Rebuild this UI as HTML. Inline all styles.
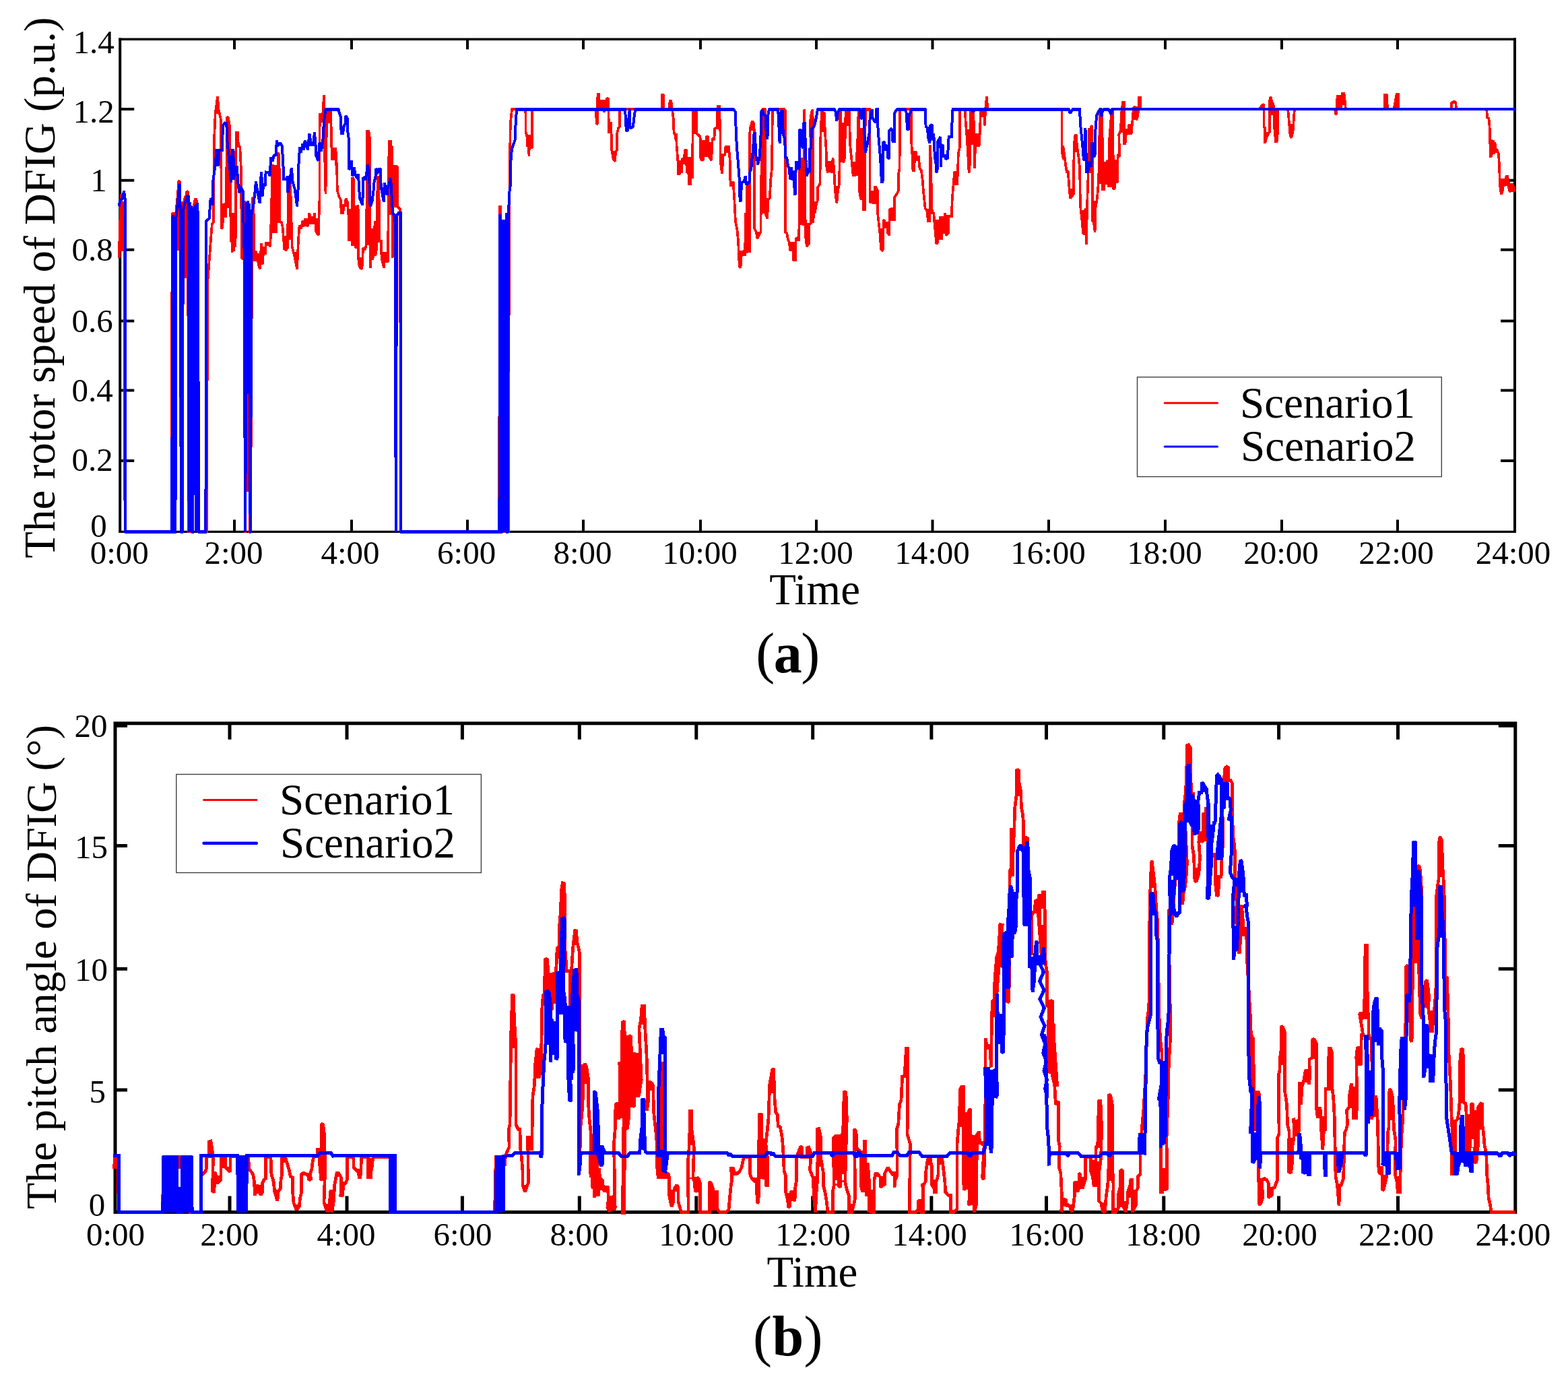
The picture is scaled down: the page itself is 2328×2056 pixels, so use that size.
<!DOCTYPE html>
<html lang="en">
<head>
<meta charset="utf-8">
<title>Rotor speed and pitch angle of DFIG</title>
<style>
html,body{margin:0;padding:0;background:#fff;}
body{width:2328px;height:2056px;overflow:hidden;}
svg{display:block;}
text{font-family:"Liberation Serif", "DejaVu Serif", serif;fill:#000;}
.tk{font-size:49px;}
.ax{font-size:65px;}
.lg{font-size:65px;}
.cap{font-size:84px;letter-spacing:-1.5px;}
</style>
</head>
<body>
<svg width="2328" height="2056" viewBox="0 0 2328 2056" role="img" aria-label="Rotor speed and pitch angle of DFIG, Scenario1 versus Scenario2">
<rect width="2328" height="2056" fill="#fff"/>
<defs><filter id="close" filterUnits="userSpaceOnUse" x="0" y="0" width="2328" height="2056" color-interpolation-filters="sRGB"><feMorphology operator="dilate" radius="1.0" result="d"/><feMorphology in="d" operator="erode" radius="1.0" result="e"/><feComponentTransfer in="e"><feFuncA type="discrete" tableValues="0 1"/></feComponentTransfer></filter><filter id="crisp" filterUnits="userSpaceOnUse" x="0" y="0" width="2328" height="2056" color-interpolation-filters="sRGB"><feComponentTransfer><feFuncA type="discrete" tableValues="0 1"/></feComponentTransfer></filter></defs>
<g id="plot-a">
<g stroke="#000" stroke-width="4" fill="none" stroke-linecap="butt">
<path d="M178.2 56.5V791.1 M2249.0 56.5V791.1"/>
<path d="M176.2 58.2H2251.0 M176.2 789.4H2251.0" stroke-width="3.4"/>
<path d="M348 789.4V771.4 M348 58.2V73.2"/>
<path d="M522 789.4V771.4 M522 58.2V73.2"/>
<path d="M694 789.4V771.4 M694 58.2V73.2"/>
<path d="M866 789.4V771.4 M866 58.2V73.2"/>
<path d="M1040 789.4V771.4 M1040 58.2V73.2"/>
<path d="M1212 789.4V771.4 M1212 58.2V73.2"/>
<path d="M1384.5 789.4V771.4 M1384.5 58.2V73.2"/>
<path d="M1557 789.4V771.4 M1557 58.2V73.2"/>
<path d="M1730 789.4V771.4 M1730 58.2V73.2"/>
<path d="M1903 789.4V771.4 M1903 58.2V73.2"/>
<path d="M2075 789.4V771.4 M2075 58.2V73.2"/>
<path d="M178.2 161.9H199.2 M2249.0 161.9H2228.0"/>
<path d="M178.2 267.7H199.2 M2249.0 267.7H2228.0"/>
<path d="M178.2 370.8H199.2 M2249.0 370.8H2228.0"/>
<path d="M178.2 476.5H199.2 M2249.0 476.5H2228.0"/>
<path d="M178.2 579.6H199.2 M2249.0 579.6H2228.0"/>
<path d="M178.2 683.9H199.2 M2249.0 683.9H2228.0"/>
</g>
<g filter="url(#close)">
<polyline points="176.7,382.8 178,332.9 180.3,288 182,372.8 184.1,299.6 185,330 185.4,789.4 254.6,789.4 255.6,318 256.6,315 257.6,789.4 260,789.4 261,318 263.6,292 265.4,268 267,270 268.8,789.4 270.4,789.4 271.4,308 274.4,294 275.6,290 276.2,413 277,285 279,284 280,789.4 286.4,789.4 287,308 289.6,296 291.6,296 293.4,340 294.8,789.4 296,789.4 306.8,789.4 308.2,420 314.7,332.9 317.2,329.5 318,206.5 319.7,168.2 323,143.2 324.7,163.2 328,178.2 328.8,339.5 330.5,337.9 331.3,304.6 334.7,302.9 335.5,322.9 337.2,173.2 338.8,174.9 341.3,188.2 342.2,312.9 343,359.5 344,316.2 344.7,374.5 346,319.6 347,372.8 348,316.2 349,366.1 349.6,364.5 350.5,196.5 353,196.5 353.8,214.8 356.3,218.1 358,253 358.8,382.8 360.5,384.4 362.9,297.9 363.8,382.8 363.4,789.4 364.2,789.4 368,300 371.2,789.4 372,789.4 374.6,292.9 376.3,296.3 377.9,387.8 379.9,372.8 382.1,382.8 384.6,396.1 385.9,399.4 387.9,361.1 389.6,392.7 391.2,372.8 393.7,377.8 394.6,361.1 398.7,361.1 401.2,366.1 402,346.2 402.9,312.9 404.5,244.7 406.2,246.4 407,344.5 410.4,344.5 411.2,292.9 412.8,226.4 414.5,229.7 415.3,329.5 417.8,329.5 419.5,336.2 421.2,356.2 422,369.5 424.5,371.1 427,367.8 427.8,286.3 431.1,269.7 433.6,366.1 437.8,382.8 441.1,399.4 442.8,359.5 444.5,334.5 446.9,339.5 449.4,327.9 451.1,336.2 452.8,324.6 455.3,329.5 456.9,336.2 459.4,316.2 461.9,331.2 465.2,331.2 466.9,316.2 468.6,332.9 469.4,344.5 472.7,349.5 474.4,296.3 474.7,168.2 476.9,181.5 479.4,166.5 481,140.8 482.7,266.3 483.5,288 485.2,164.9 486.9,164.9 487.7,183.2 489.4,164.9 491,164.9 491.9,196.5 492.7,236.4 495.2,236.4 496.8,221.4 498.5,219.8 499.3,246.4 500,241.4 500.8,283 503.3,291.3 505.8,296.3 506.7,316.2 509.1,316.2 510.8,306.3 512.5,302.9 513.6,294.6 515.8,299.6 517.5,321.2 518.3,356.2 520.8,356.2 521.6,349.5 523,364.5 523.3,263 525,266.3 525.8,324.6 527.4,366.1 529.6,367.8 530.4,307.9 531.6,304.6 532.4,391.1 534.9,397.7 537.4,399.4 539.1,367.8 541.6,371.1 544.1,362.8 544.9,194.8 547.4,194.8 549.1,206.5 549.9,397.7 551.6,349.5 553.2,386.1 554.9,374.5 556.6,327.9 557.4,379.4 559,369.5 560.7,261.3 562.4,266.3 563.2,357.8 565.7,357.8 566.5,382.8 569.9,397.7 570.7,374.5 573.2,381.1 575.7,389.4 576.5,332.9 577.3,233.1 578.2,209.8 579.8,209.8 581.2,266.3 581.8,216.4 582.7,382.8 584,246.4 585.7,248 586.5,307.9 588.2,246.4 589.8,248 590.7,307.9 594,310 595,789.4 741,789.4 742,307 743,307 744,789.4 755,789.4 756,300 756.6,275 757,234.7 757.8,183.2 759.5,166.5 760.3,161.5 780.3,162.4 780.6,196.5 782.3,201.5 783.1,218.1 784.8,199.8 785.4,231.4 786.4,199.8 787.8,218.9 789.8,218.9 790.3,162.4 884.9,162.4 885.7,184.8 886.9,183.2 887.4,139.9 889,139.9 890.7,162.4 894,149.9 895.7,149.9 896.5,166.5 898.2,162.4 900.7,146.6 903.2,145.7 904,198.1 905.7,183.2 907.3,183.2 908.2,223.1 910.7,236.4 913.2,239.7 914,224.8 915.7,223.1 915.7,199.8 918.2,189.8 919.8,188.2 919.8,162.4 983,162.4 983,140.8 984.7,140.8 985.5,162.4 993,162.4 994.7,149.9 996.3,149.1 998,162.4 999.7,174.9 1000.5,196.5 1002.2,199.8 1003,206.5 1003.8,198.1 1004.7,216.4 1006.3,238.1 1007.1,258 1008.8,258 1009.6,238.1 1012.1,256.4 1013,236.4 1015.5,236.4 1017.1,223.1 1018.8,223.1 1019.6,256.4 1021.3,233.1 1022.9,273 1025.4,273 1026.3,233.1 1027.9,264.7 1028.8,162.4 1033.8,162.4 1033.8,198.1 1036.3,199.8 1039.6,203.1 1040.4,236.4 1043.7,238.1 1044.6,208.1 1047.1,233.1 1048.7,203.1 1051.2,202.3 1052.9,233.1 1056.2,238.1 1057.9,204.8 1060.4,208.1 1061.2,190.7 1064.5,189.8 1065.4,158.2 1067.9,158.2 1069.5,198.1 1069.5,238.1 1072,258 1073.7,229.7 1076.2,229.7 1077.8,219.8 1076.2,218.1 1082,218.1 1083.7,238.1 1084.5,274.7 1087,274.7 1088.6,269.7 1090.3,296.3 1092,329.5 1094.5,341.2 1096.1,359.5 1097.8,396.1 1099.5,397.7 1101.1,374.5 1104.5,372.8 1106.1,379.4 1106.9,316.2 1107.8,376.1 1109.4,273 1111.1,374.5 1112.8,273 1113.6,374.5 1112.8,199.8 1114.4,188.2 1116.9,179.8 1118.6,181.5 1120.3,196.5 1120.3,339.5 1122.7,344.5 1124.4,354.5 1127.7,347.8 1129.4,344.5 1130.2,266.3 1131.9,199.8 1132.7,162.4 1136.1,162.4 1136.1,316.2 1139.4,324.6 1140.2,296.3 1142.7,294.6 1144.4,264.7 1146,249.7 1146.9,162.4 1166,162.4 1165.8,162.4 1165.8,344.5 1168.3,346.2 1170,356.2 1171.6,359.5 1173.3,371.1 1175.8,371.1 1176.6,359.5 1178.3,386.1 1181.6,386.1 1181.6,354.5 1184.1,352.8 1185.8,357.8 1186.6,332.9 1187.4,216.4 1189.1,329.5 1190.8,331.2 1193.3,334.5 1194.1,162.4 1194.9,199.8 1195.8,349.5 1197.9,366.1 1199.9,362.8 1201.6,361.1 1201.6,332.9 1204.1,331.2 1203.2,178.2 1204.9,166.5 1206.6,162.4 1207.4,331.2 1208.2,307.9 1209.9,316.2 1211.6,304.6 1214.1,296.3 1214.1,278 1217.4,273 1218.2,206.5 1219.9,166.5 1221.5,162.4 1222.4,189.8 1224,166.5 1224.9,196.5 1226.5,219.8 1227.4,249.7 1229,256.4 1229.9,241.4 1232.4,241.4 1234,256.4 1235.7,246.4 1236.5,234.7 1238.2,249.7 1239,266.3 1239.8,283 1242.3,301.3 1244,283 1245.7,274.7 1246.5,249.7 1246.5,162.4 1248.2,166.5 1249.8,219.8 1250.7,216.4 1252.3,241.4 1254,234.7 1254.8,199.8 1255.6,162.4 1260.6,162.4 1261.5,191.5 1262.3,216.4 1264,233.1 1266.5,259.7 1269.8,259.7 1270.6,249.7 1273.1,216.4 1273.9,183.2 1274.8,162.4 1275.6,281.3 1278.1,296.3 1279.8,289.6 1280.6,189.8 1282.3,311.2 1283.9,311.2 1284.8,162.4 1291.4,162.4 1291.4,299.6 1293.1,301.3 1294.7,283 1297.2,302.9 1298.9,278 1300.6,278 1303,283 1303,316.2 1304.7,331.2 1306.4,346.2 1308,369.5 1310.5,372.8 1311.4,359.5 1311.4,327.9 1313,326.2 1314.7,337.9 1317.2,329.5 1318,346.2 1320.5,349.5 1320.5,329.5 1320.5,311.2 1323.8,309.6 1325.5,326.2 1328,326.2 1328,292.9 1331.3,288 1333.8,283 1333.8,259.7 1335.5,249.7 1336.3,162.4 1352.9,162.4 1352.9,206.5 1354.6,233.1 1355.4,253 1357.1,253 1357.1,246.4 1359.6,224.8 1361.3,238.1 1363.8,231.4 1365.4,249.7 1367.9,253 1369.6,266.3 1371.2,286.3 1373.7,309.6 1376.2,312.9 1377.9,327.9 1380.4,327.9 1381.2,214.8 1383.7,312.9 1386.2,316.2 1387.9,336.2 1390.4,362.8 1392,359.5 1392.9,326.2 1394.5,356.2 1396.2,321.2 1397.9,356.2 1399.5,321.2 1400.4,346.2 1402.8,316.2 1404.5,349.5 1407.8,346.2 1408.7,321.2 1412.8,321.2 1413.7,296.3 1415.3,276.3 1417,256.4 1418.6,254.7 1421.1,274.7 1422,254.7 1422.8,228.1 1425.3,216.4 1425.3,162.4 1432.8,162.4 1433.6,179.8 1435.3,199.8 1436.9,224.8 1438.6,256.4 1440.3,239.7 1441.1,162.4 1445.3,162.4 1446.1,199.8 1446.9,249.7 1448.6,199.8 1451.1,199.8 1451.1,216.4 1453.6,216.4 1454.4,206.5 1456.1,162.4 1461.1,162.4 1461.9,186.5 1463.6,154.9 1465.2,143.2 1466.1,162.4 1576.5,162.4 1576.5,224.8 1579,236.4 1578.2,216.4 1580.7,233.1 1582.3,246.4 1584,256.4 1585.6,253 1587.3,276.3 1589,294.6 1591.5,291.3 1594,288 1594,256.4 1594.8,213.1 1596.5,199.8 1598.1,201.5 1598.9,216.4 1601.4,233.1 1603.1,249.7 1603.9,304.6 1606.4,327.9 1608.1,346.2 1609.8,347.8 1611.4,309.6 1613.1,362.8 1613.9,309.6 1615.6,259.7 1617.2,189.8 1618.9,199.8 1619.7,188.2 1621.4,186.5 1622.2,327.9 1623.9,329.5 1625.6,344.5 1626.4,309.6 1628.9,294.6 1630.6,274.7 1631.4,256.4 1632.2,208.1 1633,169.9 1634.7,166.5 1634.7,196.5 1636.4,166.5 1637.2,281.3 1638.9,281.3 1640.5,256.4 1642.2,273 1643,241.4 1644.7,238.1 1645.5,276.3 1647.2,276.3 1647.2,206.5 1649.7,173.2 1652.2,162.4 1653,279.6 1654.7,279.6 1656.3,266.3 1658.8,271.3 1658.8,241.4 1660.5,228.1 1662.2,233.1 1661.3,199.8 1663.8,193.1 1665.5,162.4 1667.1,151.6 1668.8,151.6 1668.8,213.1 1670.5,213.1 1672.1,196.5 1674.6,196.5 1676.3,184.8 1678,198.1 1679.6,198.1 1681.3,179.8 1682.9,159.9 1685.4,158.2 1687.1,178.2 1688.8,173.2 1690.4,162.4 1690.4,144.9 1692.9,144.9 1692.9,162.4 1869.9,162.4 1873.2,156.6 1876.6,154.9 1876.6,188.2 1878.2,189.8 1878.2,213.1 1880.7,203.1 1883.2,198.1 1884.9,196.5 1884.9,149.9 1886.5,143.2 1888.2,149.9 1890.7,156.6 1892.4,193.1 1894,209.8 1895.7,209.8 1897.3,193.1 1897.3,162.4 1912.3,162.4 1914,183.2 1915.6,201.5 1917.3,204.8 1919.8,193.1 1921.5,166.5 1922.3,162.4 1982.2,162.4 1982.7,168.2 1984.3,169.9 1985.5,143.2 1987.2,143.2 1988.8,154.9 1990.5,162.4 1993,139.1 1995.5,139.1 1997.1,153.2 1998,162.4 2056.2,162.4 2056.2,140.8 2058.7,140.8 2059.5,153.2 2060.4,162.4 2069.5,162.4 2072,148.2 2073.7,139.9 2076.2,139.9 2076.2,162.4 2154.7,161.9 2154.9,153.5 2157.4,151.3 2159.7,150.8 2161.3,152.4 2161.9,160.2 2161.9,161.9 2207.1,161.9 2208.2,174.7 2210.4,175.9 2211.5,187 2212.1,200.4 2212.7,231.6 2213.8,231.6 2214.3,207.1 2216,229.4 2217.1,208.2 2218.2,228.3 2219.4,211.5 2220.5,220.5 2222.7,222.7 2224.9,228.3 2226,245 2226.6,265.1 2227.2,277.4 2228.8,288.5 2231.1,282.9 2232.2,265.1 2233.9,276.2 2235.5,265.1 2236.6,261.7 2238.3,261.7 2240,271.8 2240.5,282.9 2242.8,284.6 2243.9,274 2246.1,274 2248.4,282.9 2250,284" fill="none" stroke="#ff0000" stroke-width="3.7" stroke-linejoin="miter" stroke-miterlimit="1.6" stroke-linecap="butt" />
</g>
<g filter="url(#crisp)">
<polyline points="176.7,306.3 178.3,297.1 181.3,295.4 184,283.8 186,297.1 186.2,300 186.2,789.4 255.2,789.4 256.2,322 257,319 258,789.4 260.4,789.4 261.4,323 264,300 266.5,273 267.4,275 269.2,789.4 270.8,789.4 271.8,313 275,300 278.8,289.6 279.6,291 280.6,789.4 281.6,300 282.6,306 283.6,789.4 284.4,306 284.6,320 285.6,789.4 286.4,789.4 287.4,313 290.5,305 291.5,789.4 292.5,303 293.4,303 293.8,340 295.2,789.4 305.4,789.4 306.2,330 306.4,327.9 310.6,324.6 312.7,293.8 315.5,304.6 316.4,268 319.7,244.7 321.4,221.4 323.9,246.4 325.5,223.1 329.7,223.1 331,186.5 333.8,182.3 336.3,183.2 337.2,208.1 339.7,233.1 343,271.3 344.7,223.1 346.3,223.1 347.1,266.3 350.5,248 352.1,248 353,269.7 355.5,286.3 357.1,276.3 360.5,283 361.3,329.5 362.4,340 364,789.4 365.2,585 366,300 367,585 368,298 369,585 370,302 371.6,789.4 372,789.4 373.4,320 373.8,314.6 376.3,304.6 378.7,283 379.9,269.7 382.1,283 384.6,296.3 385.9,302.1 387.1,266.3 388.2,255.5 389.6,291.3 391.2,273 393.7,276.3 394.6,255.5 398.7,256.4 400.9,261.3 402,233.1 404.5,239.7 407,229.7 409.5,231.4 410.9,208.1 412.8,216.4 416.2,212.3 418.7,216.4 420.3,241.4 421.2,266.3 424.5,266.3 427,261.3 427.5,286.3 431.1,263 432.8,248.9 434.5,269.7 437.8,281.3 441.1,306.3 442.8,276.3 443.6,238.1 445.3,218.1 446.9,226.4 449.4,213.1 451.1,222.3 452.8,208.1 455.3,214.8 456.9,223.1 459.4,198.1 461.9,214.8 465.2,214.8 466.9,196.5 468.6,216.4 469.4,231.4 472.7,238.9 474.4,211.4 476.9,224.8 479.4,208.1 481,179.8 483.5,162.4 501.8,162.4 502.5,162.4 504.2,169 505.8,173.2 506.7,198.1 509.1,198.1 510.8,186.5 512.5,183.2 513.6,171.5 515.8,176.5 516.6,199.8 518,206.5 518,251.4 520,249.7 521.6,238.1 523.3,261.3 525.8,248 527.4,259.7 529.9,264.7 531.9,258 533.3,281.3 534.1,294.6 538.3,304.6 539.1,264.7 541.6,263 542.4,268 544.1,258 545.7,244.7 547.4,249.7 548.2,259.7 549.1,299.6 549.9,306.3 552.4,299.6 554.9,279.6 555.7,268 557.4,264.7 557.9,249.7 559.9,258 562.4,251.4 564.9,251.4 565.7,278 569.9,299.6 570.7,271.3 573.2,279.6 574.9,289.6 575.7,276.3 578.2,273 579,263.8 580.7,273 582.3,306.3 583.2,316.2 585.7,319.6 586.6,330 587.8,789.4 589,320 591.5,316.2 594.8,316.2 594.6,320 595.4,789.4 741.4,789.4 742.4,320 743,320 744.2,789.4 745,789.4 746.4,328 747.4,328 748.4,789.4 749.6,328 750.6,789.4 751.8,316 752.8,789.4 754,789.4 755,316 756.2,286.3 757.8,274.7 758.6,233.1 760.3,219.8 762,214.8 764.5,208.1 765.3,189.8 766.1,176.5 767,162.4 928.1,162.4 929.8,193.1 931.5,194.8 933.1,179.8 934.8,161.5 935.6,190.7 939.8,188.2 941.4,174.9 943.1,162.4 1089.5,162.4 1092,166.5 1092.8,199.8 1094.5,224.8 1096.1,244.7 1097.8,266.3 1098.6,296.3 1099.5,299.6 1101.1,271.3 1104.5,269.7 1106.9,261.3 1107.8,274.7 1111.1,271.3 1112.8,269.7 1113.6,253 1115.3,251.4 1116.1,238.1 1117.8,224.8 1119.4,199.8 1121.1,196.5 1121.9,229.7 1124.4,238.1 1125.2,244.7 1127.7,233.1 1129.4,206.5 1130.2,166.5 1131.9,162.4 1133.6,169.9 1136.9,171.5 1137.7,199.8 1139.4,206.5 1140.2,171.5 1141.9,162.4 1154.4,162.4 1156,171.5 1156.8,199.8 1157.7,213.1 1159.3,166.5 1161.8,164 1162.7,199.8 1165.2,206.5 1166,231.4 1165.8,233.1 1168.3,234.7 1170,246.4 1171.6,249.7 1173.3,266.3 1175,248 1176.6,268 1178.3,253 1180,289.6 1181.3,286.3 1181.6,241.4 1183.3,241.4 1185,251.4 1186.6,249.7 1186.6,221.4 1187.4,193.1 1189.1,192.3 1189.9,216.4 1192.4,219.8 1193.3,183.2 1194.9,183.2 1195.8,216.4 1196.6,241.4 1197.9,261.3 1199.1,256.4 1201.6,254.7 1201.6,221.4 1204.1,219.8 1204.9,191.5 1207.4,189.8 1209.1,186.5 1211.6,176.5 1213.2,166.5 1214.1,162.4 1239,162.4 1240.7,166.5 1242.3,179.8 1244,166.5 1245.7,162.4 1276.4,162.4 1277.3,174.9 1279.8,176.5 1280.6,162.4 1283.1,162.4 1283.1,193.1 1284.8,226.4 1287.2,216.4 1288.9,206.5 1290.6,198.1 1291.4,178.2 1293.1,171.5 1294.7,162.4 1295.6,174.9 1298.1,179.8 1300.6,181.5 1301.4,162.4 1303,162.4 1303,183.2 1304.7,206.5 1306.4,226.4 1308,249.7 1308.9,271.3 1310.5,269.7 1311.4,244.7 1311.4,211.4 1313,210.6 1314.7,223.1 1317.2,214.8 1318,233.1 1319.7,236.4 1320.5,216.4 1319.7,194.8 1323,190.7 1324.7,193.1 1325.5,209.8 1328,209.8 1328,168.2 1331.3,162.4 1343.8,162.4 1345.5,166.5 1347.1,191.5 1348.8,191.5 1349.6,169.9 1352.1,166.5 1352.9,162.4 1373.7,162.4 1374.6,188.2 1377.1,189.8 1377.9,203.1 1380.4,213.1 1381.2,186.5 1383.7,184.8 1384.6,208.1 1386.2,198.1 1387.9,233.1 1389.5,243 1390.4,256.4 1392,249.7 1392,209.8 1394.5,206.5 1396.2,203.1 1397,248 1397.9,216.4 1399.5,214.8 1400.4,233.1 1402.8,229.7 1404.5,236.4 1407,234.7 1407.8,216.4 1408.7,203.1 1412.8,203.1 1413.7,176.5 1414.5,162.4 1442.8,162.4 1445.3,166.5 1446.9,162.4 1587.3,162.4 1588.5,168.2 1590.6,165.7 1592.3,162.4 1603.1,162.4 1603.9,183.2 1605.6,199.8 1607.3,216.4 1608.9,236.4 1610.6,236.4 1611.4,189.8 1612.3,216.4 1613.1,256.4 1614.8,254.7 1616.4,249.7 1617.2,239.7 1619.7,248 1621.4,233.1 1621.4,213.1 1623.1,213.1 1624.7,233.1 1626.4,226.4 1626.4,193.1 1628.1,171.5 1630.6,166.5 1633,162.4 1634.7,162.4 1635.5,173.2 1637.2,163.2 1638,162.4 1646.4,162.4 1648,166.5 1649.7,169.9 1651.3,162.4 2250,161.9" fill="none" stroke="#0000ff" stroke-width="4.0" stroke-linejoin="miter" stroke-miterlimit="1.6" stroke-linecap="butt" />
</g>
<text class="tk" x="139.2" y="78.8" text-anchor="middle">1.4</text>
<text class="tk" x="139.2" y="181.9" text-anchor="middle">1.2</text>
<text class="tk" x="146.6" y="283.9" text-anchor="middle">1</text>
<text class="tk" x="137" y="387" text-anchor="middle">0.8</text>
<text class="tk" x="137" y="492.7" text-anchor="middle">0.6</text>
<text class="tk" x="137" y="596.3" text-anchor="middle">0.4</text>
<text class="tk" x="137" y="698.9" text-anchor="middle">0.2</text>
<text class="tk" x="146.6" y="796.9" text-anchor="middle">0</text>
<text class="tk" x="177.3" y="837.4" text-anchor="middle">0:00</text>
<text class="tk" x="347" y="837.4" text-anchor="middle">2:00</text>
<text class="tk" x="520" y="837.4" text-anchor="middle">4:00</text>
<text class="tk" x="692.6" y="837.4" text-anchor="middle">6:00</text>
<text class="tk" x="865" y="837.4" text-anchor="middle">8:00</text>
<text class="tk" x="1039" y="837.4" text-anchor="middle">10:00</text>
<text class="tk" x="1211" y="837.4" text-anchor="middle">12:00</text>
<text class="tk" x="1384" y="837.4" text-anchor="middle">14:00</text>
<text class="tk" x="1556" y="837.4" text-anchor="middle">16:00</text>
<text class="tk" x="1729" y="837.4" text-anchor="middle">18:00</text>
<text class="tk" x="1902" y="837.4" text-anchor="middle">20:00</text>
<text class="tk" x="2073" y="837.4" text-anchor="middle">22:00</text>
<text class="tk" x="2246.5" y="837.4" text-anchor="middle">24:00</text>
<text class="ax" x="1209.6" y="897.3" text-anchor="middle">Time</text>
<text class="ax" transform="translate(80.8 427) rotate(-90)" text-anchor="middle">The rotor speed of DFIG (p.u.)</text>
<rect x="1688.5" y="559.8" width="451.8" height="147.8" fill="#fff" stroke="#404040" stroke-width="1.4"/>
<path d="M1729.2 598.2H1807.5" stroke="#ff0000" stroke-width="3" stroke-linecap="round"/>
<path d="M1729.2 663H1807.5" stroke="#0000ff" stroke-width="3" stroke-linecap="round"/>
<text class="lg" x="1841" y="619.5">Scenario1</text>
<text class="lg" x="1842" y="683.9">Scenario2</text>
<text class="cap" x="1168.9" y="998.2" text-anchor="middle">(<tspan font-weight="bold">a</tspan>)</text>
</g>
<g id="plot-b">
<g stroke="#000" stroke-width="5" fill="none" stroke-linecap="butt">
<rect x="171.0" y="1073.8" width="2078.8" height="725.6000000000001"/>
<path d="M341 1799.4V1775.4 M341 1073.8V1097.8"/>
<path d="M515 1799.4V1775.4 M515 1073.8V1097.8"/>
<path d="M686.4 1799.4V1775.4 M686.4 1073.8V1097.8"/>
<path d="M860.3 1799.4V1775.4 M860.3 1073.8V1097.8"/>
<path d="M1033.8 1799.4V1775.4 M1033.8 1073.8V1097.8"/>
<path d="M1206.7 1799.4V1775.4 M1206.7 1073.8V1097.8"/>
<path d="M1382.9 1799.4V1775.4 M1382.9 1073.8V1097.8"/>
<path d="M1553.5 1799.4V1775.4 M1553.5 1073.8V1097.8"/>
<path d="M1727.8 1799.4V1775.4 M1727.8 1073.8V1097.8"/>
<path d="M1898.6 1799.4V1775.4 M1898.6 1073.8V1097.8"/>
<path d="M2075.5 1799.4V1775.4 M2075.5 1073.8V1097.8"/>
<path d="M171.0 1255.6H189.0 M2249.8 1255.6H2224.8"/>
<path d="M171.0 1438.2H189.0 M2249.8 1438.2H2224.8"/>
<path d="M171.0 1617.9H189.0 M2249.8 1617.9H2224.8"/>
<path d="M171.0 1077.3H189.0 M2249.8 1077.3H2224.8"/>
</g>
<g filter="url(#close)">
<polyline points="169.2,1734.6 170.8,1717.9 175,1717.9 176.3,1799.4 241.2,1799.4 243.2,1717.9 263.1,1717.9 264.8,1717.9 266.8,1734.6 269,1717.9 281.4,1717.9 282.3,1799.4 298.1,1799.4 298.6,1799.4 299.1,1742.9 301.4,1742.9 304.7,1739.5 306.4,1734.6 306.4,1716.3 310.5,1716.3 310.5,1694.6 313,1693.8 314.7,1704.6 316.4,1716.3 315.5,1769.5 318,1768.6 318.9,1739.5 321.4,1746.2 322.2,1756.2 324.7,1754.5 328,1751.2 328,1717.9 334.7,1717.9 334.7,1732.9 338,1736.2 340.5,1738.7 342.1,1737.9 342.1,1716.3 368.8,1717.9 369.6,1734.6 372.9,1739.5 375.4,1742.9 377.1,1751.2 378.7,1774.5 381.2,1759.5 384.6,1762.8 387.1,1774.5 389.6,1769.5 389.6,1756.2 392,1751.2 394.5,1749.5 394.5,1717.9 402,1717.9 402.9,1742.9 406.2,1754.5 407.8,1769.5 412,1782.8 412.8,1769.5 416.2,1764.5 417,1751.2 418.7,1742.9 418.7,1717.9 423.6,1717.9 426.1,1726.2 429.5,1737.9 431.1,1746.2 434.5,1747.9 434.5,1769.5 436.1,1786.1 440.3,1796.1 444.4,1791.1 445.3,1779.5 447.8,1769.5 447.8,1742.9 451.1,1741.2 454.4,1742.9 462.7,1749.5 458.6,1752 459.4,1746.2 462.7,1736.2 464.4,1722.9 466.1,1716.3 471.1,1716.3 471.1,1706.3 473.5,1706.3 474.4,1726.2 476.9,1752.8 477.7,1734.6 476.9,1669.7 479.4,1668 481,1678 481.9,1696.3 482.7,1734.6 481,1784.5 483.5,1792.8 486,1799.4 489.4,1784.5 491,1766.2 492.7,1799.4 495.2,1784.5 496.7,1759.5 500,1741.2 502.5,1741.2 506.6,1747.9 505.8,1774.5 508.3,1774.5 510,1759.5 513.3,1756.2 515.8,1749.5 515.8,1717.9 524.9,1717.9 524.9,1732.9 528.3,1736.2 532.4,1741.2 533.3,1747.9 534.9,1747.9 535.8,1736.2 536.6,1717.9 546.6,1717.9 546.6,1747.9 550.7,1747.9 550.7,1739.5 552.4,1731.2 553.2,1722.9 554,1717.9 579,1717.9 580.7,1799.4 734.5,1799.4 736.2,1717.9 747.8,1717.9 749.5,1731.2 750.3,1717.9 752.8,1709.6 756.1,1702.9 755.3,1676.3 757,1669.7 757.8,1609.8 758.6,1538.3 760.6,1477.9 762.2,1477.9 763.9,1522.8 764.5,1526.6 766.1,1561.6 766.1,1669.7 769.5,1676.3 771.9,1676.3 772.8,1706.3 774.4,1717.9 776.1,1739.5 776.1,1759.5 779.4,1769.5 782.8,1759.5 784.4,1756.2 783.6,1686.3 785.3,1707.9 786.4,1686.3 787.7,1707.9 789.1,1686.3 790.1,1707.9 790.2,1646.4 791.1,1626.4 793.6,1609.8 794.4,1583.2 796.9,1558.2 798.6,1556.6 798.6,1598.2 800.2,1599.8 802.7,1589.8 803.5,1563.2 804.4,1526.6 804.6,1499.5 806.3,1477.9 808,1477.9 809.6,1424.6 812.1,1423 813.8,1439.6 815.4,1461.2 816.3,1476.2 818.8,1472.9 819.6,1499.5 820.4,1446.3 822.9,1444.6 823.8,1489.5 824.6,1456.2 826.3,1428 827.1,1408 828.7,1406.3 829.6,1423 830.4,1376.4 832.1,1356.4 833.7,1319.8 835.4,1310.7 837.9,1311.5 838.7,1356.4 838.7,1406.3 840.4,1428 841.2,1441.3 844.6,1441.3 846.2,1442.9 846.2,1492.8 848.7,1489.5 848.7,1437.9 850.4,1409.7 852,1394.7 853.7,1381.4 855.4,1380.6 857,1399.7 858.7,1406.3 860.4,1414.7 860.4,1486.2 860.8,1719.6 861.9,1673 864.1,1651.4 865.8,1621.4 866.9,1583.2 868.6,1579 870.7,1583.2 873.2,1599.8 873.6,1639.7 874.9,1659.7 876.9,1678 877.9,1698 876.6,1717.9 876.9,1747.9 878.2,1684.7 879.9,1764.5 881.2,1693 882.4,1777.8 883.5,1701.3 884.9,1776.1 886.2,1717.9 887.5,1774.5 889,1773.6 889.9,1734.6 890.7,1761.2 891.9,1751.2 894,1750.4 895.7,1762.8 897.4,1769.5 899.9,1762.8 902.3,1762.8 903.5,1779.5 901.8,1792.8 904,1796.9 906.5,1796.1 908.2,1777.8 911.2,1776.1 911.8,1796.1 913.2,1792.8 911.5,1698 913.2,1676.3 914,1639.7 915.7,1638.1 917.3,1638.1 918.1,1661.4 919.8,1658 920.6,1648.1 919.8,1576.5 921.1,1653 922.3,1575.7 923.5,1659.7 923.1,1539.9 924.8,1515.8 926.5,1516.7 926.8,1668 927.8,1531.6 928.5,1568.2 929.1,1673 930.1,1579.9 931.1,1674.7 932.1,1603.1 925.6,1676.3 924.5,1800.3 926.8,1800.3 927.5,1676.3 931.5,1674.7 933.4,1659.7 933.1,1571.5 934.8,1538.3 936.4,1537.4 938.1,1573.2 939.8,1588.2 939.4,1643.1 941.4,1641.4 942.3,1626.4 941.4,1564.9 943.9,1564.1 945.6,1583.2 946.4,1598.2 947.3,1628.1 948.9,1624.8 949.8,1616.5 952.2,1603.1 948.9,1526.6 951.4,1515 953.1,1493.4 956.4,1493.4 958.1,1533.3 959.7,1559.9 960.6,1581.5 961.4,1624.8 959.7,1646.4 960.6,1648.1 962.2,1636.4 963.1,1606.5 965.6,1606.5 968,1608.1 969.7,1611.5 970.5,1649.7 972.2,1666.4 973.9,1681.3 975.5,1701.3 975.5,1731.2 977.2,1747.9 979.7,1747.9 981.4,1624.8 983,1576.5 984.7,1739.5 985.5,1747.9 988.8,1747.9 989.7,1741.2 992.2,1742.9 993.8,1747.9 993.8,1776.1 995.5,1784.5 997.2,1791.1 999.7,1784.5 999.7,1769.5 1002.1,1762.8 1004.6,1759.5 1007.1,1762.8 1007.1,1784.5 1009.6,1792.8 1011.3,1799.4 1022.1,1799.4 1021.3,1726.2 1022.9,1706.3 1023.8,1684.7 1024.6,1649.7 1026.6,1649.7 1027.1,1678 1028.8,1689.6 1030.4,1704.6 1028.8,1749.5 1031.3,1754.5 1032.1,1768.6 1033.7,1767.8 1034.6,1747.9 1037.1,1749.5 1039.6,1756.2 1039.6,1799.4 1053.7,1799.4 1052.9,1756.2 1054.5,1754.5 1057,1759.5 1058.7,1764.5 1057.9,1792.8 1061.2,1796.1 1062.9,1769.5 1064.5,1769.5 1064.5,1792.8 1067,1797.8 1069.5,1799.4 1077.8,1799.4 1082,1796.1 1083.6,1776.1 1085.3,1759.5 1087,1749.5 1085.3,1734.6 1088.6,1734.6 1091.1,1742.9 1093.6,1742.9 1097.8,1739.5 1101.1,1732.9 1102.8,1724.6 1104.4,1717.9 1113.6,1717.9 1113.6,1742.9 1116.1,1749.5 1119.4,1752.8 1122.7,1749.5 1124.4,1786.1 1126.1,1784.5 1126.9,1686.3 1127.7,1654.7 1130.2,1654.7 1130.2,1701.3 1132.7,1709.6 1132.7,1747.9 1135.2,1749.5 1136,1709.6 1137.7,1759.5 1139.4,1759.5 1139.4,1717.9 1136.9,1698 1139.4,1676.3 1141,1659.7 1142.7,1609.8 1145.2,1596.5 1146.9,1586.5 1148.5,1587.3 1149.4,1609.8 1150.2,1633.1 1151.8,1651.4 1154.3,1654.7 1155.2,1671.3 1155.8,1671.3 1158.3,1673 1160,1681.3 1161.7,1693 1163.3,1717.9 1164.1,1737.9 1166.6,1746.2 1166.6,1769.5 1169.1,1779.5 1170.8,1792.8 1172.5,1791.1 1174.1,1769.5 1175.8,1768.6 1177.5,1779.5 1180,1782.8 1180.8,1762.8 1182.4,1752.8 1182.4,1717.9 1184.9,1711.3 1188.3,1702.9 1190.8,1702.1 1190.8,1717.9 1198.2,1717.9 1198.2,1703.8 1200.7,1702.9 1203.2,1709.6 1204.1,1717.9 1202.4,1736.2 1204.9,1742.9 1207.4,1749.5 1208.2,1776.1 1210.7,1799.4 1211.6,1776.1 1213.2,1756.2 1214,1717.9 1213.2,1676.3 1215.7,1675.5 1219,1689.6 1218.2,1717.9 1219.9,1726.2 1222.4,1741.2 1222.4,1759.5 1224.9,1769.5 1227.4,1784.5 1229,1799.4 1236.5,1799.4 1236.5,1767.8 1238.2,1759.5 1237.3,1689.6 1240.7,1686.3 1243.2,1686.3 1244,1742.9 1245.7,1761.2 1247.3,1762.8 1247.3,1742.9 1250.6,1739.5 1249.8,1693 1252.3,1666.4 1253.1,1621.4 1255.6,1620.6 1256.5,1631.4 1257.3,1661.4 1255.6,1717.9 1254.8,1754.5 1257.3,1766.2 1260.6,1776.1 1260.6,1799.4 1264.8,1799.4 1268.1,1786.1 1269.8,1777.8 1268.9,1717.9 1268.1,1678 1269.8,1676.3 1271.4,1684.7 1272.3,1706.3 1274.8,1707.1 1277.3,1709.6 1278.9,1717.9 1278.1,1759.5 1280.6,1769.5 1283.1,1717.9 1283.1,1694.6 1284.7,1694.6 1284.7,1717.9 1286.4,1776.1 1288.1,1726.2 1289.7,1742.9 1291.4,1769.5 1289.7,1799.4 1292.2,1796.1 1292.2,1774.5 1294.7,1776.1 1296.4,1799.4 1298,1799.4 1298,1751.2 1299.7,1742.9 1303,1742.9 1307.2,1747.9 1307.2,1762.8 1310.5,1759.5 1313.8,1757.8 1313.8,1741.2 1318,1732.9 1321.3,1737.9 1324.7,1742.9 1328,1741.2 1328,1762.8 1328.8,1752.8 1332.1,1744.5 1332.1,1717.9 1331.3,1676.3 1333.8,1668 1335.5,1639.7 1338,1633.1 1339.6,1598.2 1343,1597.3 1344.6,1569.9 1345.5,1556.6 1347.9,1556.6 1347.1,1684.7 1348.8,1689.6 1351.3,1698 1350.4,1799.4 1359.6,1799.4 1362.9,1796.1 1363.7,1782.8 1365.4,1781.1 1366.2,1796.1 1367.9,1799.4 1370.4,1799.4 1370.4,1761.2 1367.9,1759.5 1372.1,1757.8 1374.6,1752.8 1374.6,1739.5 1377.1,1722.9 1378.7,1717.9 1381.2,1717.9 1382,1726.2 1383.7,1732.9 1383.7,1759.5 1387,1764.5 1387,1769.5 1389.5,1769.5 1389.5,1756.2 1392.9,1744.5 1392.9,1717.9 1398.7,1717.9 1399.5,1726.2 1401.2,1739.5 1402.8,1754.5 1403.7,1769.5 1407.8,1774.5 1412,1774.5 1411.2,1799.4 1416.1,1799.4 1421.1,1794.4 1421.1,1698 1422.8,1676.3 1424.5,1661.4 1425.3,1618.1 1427.8,1613.1 1430.3,1613.1 1430.3,1742.9 1431.1,1766.2 1436.1,1761.2 1434.4,1717.9 1436.1,1669.7 1437.8,1651.4 1439.4,1646.4 1441.1,1648.1 1441.1,1717.9 1438.6,1789.4 1441.1,1784.5 1442.8,1717.9 1444.4,1684.7 1446.1,1799.4 1449.4,1789.4 1450.2,1717.9 1450.2,1684.7 1453.6,1679.7 1454.4,1694.6 1457.7,1698 1461.1,1699.6 1458.6,1747.9 1460.2,1751.2 1461.9,1717.9 1462.7,1681.3 1463.2,1541.2 1465.7,1556.2 1468.2,1553.7 1469.9,1556.2 1471.5,1584.5 1472.4,1519.6 1473.2,1486.4 1475.7,1484.7 1477.3,1509.6 1476.5,1463.1 1478.2,1438.1 1479.8,1420.7 1482.3,1413.2 1484,1386.6 1484.8,1372.4 1488.2,1373.2 1486.5,1396.5 1484,1416.5 1481.5,1439.8 1479.5,1463.1 1478.2,1486.4 1476.8,1509.6 1479.2,1486.4 1480.8,1463.1 1482.8,1439.8 1485.2,1416.5 1487.8,1396.5 1489,1396.5 1491.5,1456.4 1493.1,1469.7 1495.6,1488 1498.1,1486.4 1498.1,1469.7 1499.3,1396.5 1499.3,1384.9 1499,1314.6 1499.3,1293 1501,1289.6 1501.5,1228.9 1502.1,1301.3 1503,1229.8 1503.8,1301.3 1504.5,1228.9 1505.6,1243.1 1506.5,1201.5 1507.3,1194.8 1508.9,1181.5 1509.8,1143.3 1512.3,1142.4 1513.1,1161.6 1515.6,1174.9 1516.4,1198.2 1518.1,1206.5 1519.8,1223.1 1518.9,1259.7 1520.6,1266.4 1523.1,1244.7 1525.6,1243.1 1526.4,1293 1523.9,1298 1525.6,1306.3 1527.2,1316.3 1531.4,1418.2 1532.2,1355 1532.2,1354.5 1534.7,1354.5 1536.4,1351.2 1537.2,1337.9 1539.7,1336.2 1541.4,1356.2 1546.4,1421.5 1542.2,1329.6 1544.7,1328.7 1545.5,1346.2 1547.2,1347.9 1548,1324.6 1550.5,1324.6 1551.4,1359.5 1552.2,1429.8 1554.7,1444.8 1554.7,1493 1557.2,1494.7 1556.4,1539.6 1557.2,1592.8 1558.8,1591.1 1559.7,1539.6 1559.7,1486.4 1562.2,1484.7 1563,1519.6 1564.7,1521.3 1564.7,1549.6 1565.5,1596.1 1568,1604.5 1569.7,1612.8 1563.2,1520 1564,1549.9 1562.3,1596.5 1565.7,1609.8 1567.3,1639.7 1571.5,1634.8 1571.5,1693 1573.2,1701.3 1572.3,1732.9 1574.8,1741.2 1575.7,1759.5 1576.5,1776.1 1575.7,1799.4 1579,1779.5 1582.3,1781.1 1583.1,1791.1 1584.8,1787.8 1589,1792.8 1591.5,1799.4 1593.1,1792.8 1595.6,1772.8 1595.6,1754.5 1598.1,1756.2 1599.8,1769.5 1602.3,1762.8 1602.3,1742.9 1603.9,1742 1604.8,1759.5 1607.3,1764.5 1608.9,1757.8 1611.4,1751.2 1611.4,1717.9 1619.7,1717.9 1619.7,1739.5 1622.2,1746.2 1623.9,1759.5 1625.6,1759.5 1626.4,1747.9 1627.2,1702.9 1629.7,1701.3 1631.4,1634.8 1633.9,1634.8 1634.7,1651.4 1635.5,1673 1634.7,1717.9 1631.4,1742.9 1631.4,1782.8 1634.7,1786.1 1637.2,1797.8 1640.5,1799.4 1642.2,1776.1 1643.8,1766.2 1645.5,1749.5 1646.3,1717.9 1646.3,1624.8 1648.8,1626.4 1651.3,1639.7 1651.3,1717.9 1652.2,1742.9 1653,1759.5 1652.2,1799.4 1656.3,1799.4 1660.5,1792.8 1660.5,1772.8 1663.8,1759.5 1663.8,1736.2 1666.3,1737.9 1667.1,1751.2 1667.1,1789.4 1671.3,1799.4 1673.8,1784.5 1674.6,1769.5 1677.9,1759.5 1678.8,1751.2 1680.4,1751.2 1681.3,1769.5 1681.3,1799.4 1686.3,1789.4 1686.3,1769.5 1689.6,1762.8 1689.6,1746.2 1692.9,1742.9 1692.9,1717.9 1694.6,1684.7 1696.2,1664.7 1697.9,1646.4 1699.6,1619.8 1701.2,1588.2 1703.3,1513 1705.8,1496.3 1706.7,1374.9 1707.5,1334.5 1708.3,1302.9 1710,1277.1 1711.6,1289.6 1713.3,1302.9 1715,1319.5 1716.6,1347.8 1718.3,1364.5 1719.1,1389.9 1720.8,1501.3 1721.6,1524.6 1723.3,1549.6 1725,1562.9 1723.7,1706.3 1722.9,1769.5 1725.4,1769.5 1726.2,1736.2 1728.7,1736.2 1729.5,1766.2 1732.8,1764.5 1732,1689.6 1734.5,1623.1 1735.3,1576.5 1737,1553.2 1737.8,1526.6 1734.9,1359.5 1735.8,1349.5 1739.9,1372.8 1742.4,1339.5 1745.7,1295.4 1748.2,1297.9 1749.1,1306.2 1749.9,1256.3 1750.7,1219.7 1752.4,1206.4 1754.1,1219.7 1755.7,1342.8 1757.4,1322.9 1759,1319.5 1760.7,1306.2 1762.4,1281.3 1758.2,1193.1 1759.9,1179.8 1761.5,1156.5 1762.4,1106.6 1764.9,1105.8 1767.4,1110 1768.2,1164.9 1769,1181.5 1771.5,1176.5 1772.4,1189.8 1769.9,1228.1 1769.9,1254.7 1772.4,1269.6 1774,1308.7 1776.5,1307.9 1779.8,1297.9 1781.5,1273 1779.8,1249.7 1781.5,1234.7 1784,1249.7 1786.5,1248 1786.5,1206.4 1788.2,1228.1 1790.7,1226.4 1790.7,1198.1 1793.1,1239.7 1795.6,1291.3 1796.5,1271.3 1801.5,1268.8 1804.8,1268.8 1804,1306.2 1806.5,1330.4 1808.9,1327.9 1809.8,1301.2 1813.1,1301.2 1813.9,1276.3 1815.6,1253 1814.8,1181.5 1816.4,1184.8 1817.3,1156.5 1818.9,1139.9 1821.4,1138.2 1823.9,1139.9 1823.9,1158.2 1827.2,1158.2 1829.7,1163.2 1829.7,1209.8 1830.6,1239.7 1833.1,1258 1833.9,1302.9 1834.7,1336.2 1837.2,1332.8 1838.1,1372.8 1834.7,1369.9 1836.4,1333.3 1838.9,1413.2 1840.6,1413.2 1842.2,1379.9 1843,1346.6 1843,1342.8 1844.7,1356.1 1846.4,1386.1 1846.4,1386.6 1848,1388.2 1850.5,1376.6 1851.4,1423.1 1854.7,1479.7 1856.4,1509.6 1857.2,1537.9 1860.5,1541.2 1861.3,1596.1 1860.5,1619.4 1856.6,1526.6 1859.1,1541.6 1860.7,1543.3 1861.6,1616.5 1862.4,1676.3 1864.9,1676.3 1864.1,1653 1866.6,1623.1 1868.2,1619.8 1869.9,1626.4 1868.2,1732.9 1869.9,1789.4 1872.4,1784.5 1874.9,1777.8 1873.2,1751.2 1877.4,1749.5 1880.7,1751.2 1883.2,1756.2 1883.2,1777.8 1885.7,1776.1 1889,1772.8 1887.4,1764.5 1892.3,1762.8 1894.8,1756.2 1896.5,1751.2 1896.5,1689.6 1899,1683 1898.2,1596.5 1899.8,1589.8 1900.7,1568.2 1902.3,1556.6 1902.3,1523.3 1904.8,1525 1907.3,1531.6 1907.3,1618.1 1910.6,1639.7 1911.5,1669.7 1914,1679.7 1913.1,1739.5 1916.5,1741.2 1918.1,1731.2 1919,1701.3 1921.5,1684.7 1920.6,1659.7 1923.1,1673 1924.8,1686.3 1928.1,1681.3 1928.9,1659.7 1928.9,1606.5 1931.4,1639.7 1933.1,1613.1 1935.6,1604.8 1938.1,1589.8 1941.4,1589.8 1943.1,1609.8 1944.7,1599.8 1943.9,1573.2 1948.1,1569.9 1948.9,1541.6 1951.4,1543.3 1954.7,1549.9 1954.7,1646.4 1956.4,1659.7 1959.7,1643.1 1961.4,1659.7 1961.4,1674.7 1963.9,1706.3 1965.5,1676.3 1968,1676.3 1968,1616.5 1972.2,1616.5 1973,1556.6 1975.5,1556.6 1978,1563.2 1977.2,1609.8 1979.7,1629.8 1981.3,1659.7 1983,1746.2 1985.5,1759.5 1988,1789.4 1988.8,1759.5 1991.3,1759.5 1994.6,1749.5 1996.3,1681.3 1998.8,1676.3 2000.5,1669.7 1999.6,1648.1 2003,1643.1 2003.8,1624.8 2006.3,1608.1 2007.9,1618.1 2009.6,1659.7 2013.8,1659.7 2014.6,1634.8 2013.8,1568.2 2015.4,1554.9 2017.9,1556.6 2020.4,1581.5 2021.3,1536.6 2023.8,1536.6 2018.8,1506.2 2020.4,1502.8 2022.9,1506.2 2025.4,1512.8 2027.1,1403 2029.6,1403 2030.4,1502.8 2032.1,1504.5 2032.1,1535 2033.7,1541.6 2036.2,1543.3 2037.1,1588.2 2034.6,1659.7 2037.1,1659.7 2039.6,1636.4 2042.9,1626.4 2045.4,1666.4 2047,1739.5 2049.5,1742.9 2051.2,1731.2 2052.9,1767.8 2054.5,1764.5 2057,1754.5 2059.5,1741.2 2060.4,1681.3 2062,1673 2062.9,1616.5 2065.3,1619.8 2067.8,1629.8 2069.5,1676.3 2072,1693 2071.2,1742.9 2073.7,1752.8 2075.3,1769.5 2078.7,1769.5 2079.5,1717.9 2081.1,1683 2082.8,1659.7 2085.3,1551.6 2087,1516.2 2087.8,1434.7 2090.3,1433 2092,1441.3 2092.8,1476.2 2094.5,1543.3 2096.1,1546.6 2098.6,1363.1 2099.4,1329.9 2101.1,1358.1 2102.8,1299.9 2104.4,1286.6 2106.9,1285 2108.6,1291.6 2109.4,1303.2 2110.3,1316.6 2111.1,1338.2 2106.9,1348.2 2102.8,1393.1 2102.8,1428 2105.3,1428 2105.3,1393.1 2108.6,1504.5 2111.1,1512.8 2115.2,1479.6 2116.1,1457.9 2118.6,1454.6 2120.2,1466.3 2121.9,1482.9 2120.2,1492.9 2122.7,1512.8 2124.4,1530.3 2126.9,1530.3 2127.7,1506.2 2130.2,1492.9 2131.9,1466.3 2132.7,1329.9 2134.4,1314.9 2136,1304.9 2136.9,1245 2138.5,1242.5 2140.2,1246.7 2141,1261.7 2141.9,1286.6 2143.5,1311.6 2144.4,1334.9 2145.2,1396.4 2145.2,1449.6 2148.5,1451.3 2149.3,1479.6 2150.2,1512.8 2150.2,1551.6 2151.8,1576.5 2153.5,1609.8 2155.2,1659.7 2156,1676.3 2155.2,1742.9 2160.2,1742.9 2161,1664.7 2164.3,1661.4 2166.8,1643.1 2167.6,1576.5 2169.3,1558.2 2171.8,1556.6 2172.6,1576.5 2172.6,1636.4 2176,1638.1 2177.6,1659.7 2176,1717.9 2179.3,1717.9 2182.6,1701.3 2184.3,1638.1 2186.8,1639.7 2188.4,1676.3 2190.1,1693 2189.3,1724.6 2191.8,1726.2 2194.3,1701.3 2194.3,1644.7 2198.4,1638.1 2200.9,1638.9 2200.9,1669.7 2202.6,1683 2204.2,1701.3 2206.7,1712.1 2207.6,1742.9 2209.2,1759.5 2210.1,1777.8 2212.6,1789.4 2214.2,1799.4 2250,1799.4" fill="none" stroke="#ff0000" stroke-width="4.7" stroke-linejoin="miter" stroke-miterlimit="1.6" stroke-linecap="butt" />
</g>
<g filter="url(#close)">
<polyline points="168.3,1715.4 176.6,1715.4 176.6,1799.4 241.2,1799.4 241.8,1799.4 242.9,1715.4 244,1799.4 245.1,1715.4 246.2,1799.4 247.3,1715.4 248.3,1799.4 249.4,1715.4 250.5,1799.4 251.6,1715.4 252.7,1799.4 253.7,1715.4 254.8,1799.4 255.9,1715.4 257,1799.4 258.1,1715.4 259.1,1799.4 260.2,1715.4 261.3,1799.4 262.4,1715.4 263.5,1799.4 269.5,1799.4 269.8,1799.4 270.9,1715.4 272,1799.4 273.1,1715.4 274.2,1799.4 275.3,1715.4 276.3,1799.4 277.4,1715.4 278.5,1799.4 279.6,1715.4 280.7,1799.4 281.8,1715.4 282.9,1799.4 284,1715.4 285.1,1799.4 298.1,1799.4 298.4,1715.4 352.1,1715.4 352.6,1715.4 353.8,1799.4 355,1715.4 356.1,1799.4 357.3,1715.4 358.4,1799.4 359.6,1715.4 360.8,1799.4 361.9,1715.4 363.1,1799.4 364.3,1715.4 365.4,1799.4 366.6,1715.4 367.1,1715.4 471.9,1715.4 476,1711.3 491,1711.3 494.3,1715.9 505,1715.9 495,1715.9 579,1715.6 580,1799.4 580.7,1799.4 582.2,1715.6 583.2,1759.5 584.2,1715.6 586.2,1715.6 587,1799.4 734.5,1799.4 736.2,1799.4 737.3,1715.4 738.4,1799.4 739.5,1715.4 740.6,1799.4 741.7,1715.4 742.8,1799.4 743.9,1715.4 745,1799.4 746.1,1715.4 747.2,1799.4 747.8,1716.3 760.3,1715.4 764.5,1711.3 801.1,1711.3 802.7,1716.3 804,1716.3 804.4,1676.3 804.4,1654.7 806,1613.1 807.7,1576.5 809.4,1559.9 811,1535 810.5,1472.9 812.9,1471.2 815.4,1474.5 817.1,1489.5 817.9,1502.8 817.7,1576.5 819.6,1512.8 821,1556.6 822.9,1516.1 823.5,1559.9 824.6,1526.1 826,1573.2 827.7,1568.2 827.1,1472.9 827.1,1442.1 829.2,1506.1 830.9,1441.3 832.6,1506.1 832.9,1414.7 834.6,1363.9 837.1,1363.1 838.7,1366.4 835.6,1489.5 837.9,1472.9 839.1,1548.3 839.6,1489.5 841.6,1548.3 842.1,1496.2 844.1,1608.1 845.8,1634.8 847.5,1633.1 844.6,1492.8 848.3,1603.1 846.2,1496.2 850.8,1593.2 851.6,1576.5 849.5,1482.8 851.2,1456.2 852.9,1437.9 854.2,1531.1 855.4,1437.1 857,1456.2 856.2,1472.9 859.5,1486.2 859.1,1510 859.1,1744.5 860.8,1732.9 861.6,1719.6 862.4,1711.3 882.4,1711.3 882.4,1621.4 884,1620.6 885.7,1634.8 887.4,1651.4 889,1701.3 886.5,1709.6 889,1717.9 892.4,1731.2 894.9,1726.2 894.9,1716.3 891.5,1703.8 894,1701.3 896.5,1707.9 898.2,1711.3 918.1,1711.3 922.3,1716.3 931.5,1716.3 935.6,1711.3 949.8,1711.3 950.6,1693 953.1,1673 953.9,1633.1 955.6,1633.1 956.4,1669.7 957.2,1693 958.1,1709.6 960.6,1711.3 975.5,1711.3 977.7,1717.9 978,1613.1 979.7,1573.2 981.4,1528.3 983.8,1528.3 985,1538.3 987.2,1539.9 987.2,1709.6 985,1709.6 985,1737.9 987.7,1738.7 989.7,1724.6 991,1712.1 1079.5,1711.3 1082,1715.4 1083.6,1712.1 1087,1716.3 1136,1716.3 1138.5,1711.3 1144.4,1711.3 1146,1715.4 1147.7,1711.3 1151,1716.3 1165,1716.3 1206.6,1716.3 1209.1,1711.3 1232.3,1711.3 1236.5,1716.3 1238.2,1711.3 1266.4,1711.3 1269.8,1716.3 1272.3,1716.3 1273.9,1710.4 1276.4,1711.3 1278.9,1715.4 1324.7,1715.4 1327.2,1710.4 1332.1,1710.4 1336.3,1715.4 1346.3,1715.4 1349.6,1710.4 1364.6,1710.4 1368.7,1716.3 1406.2,1716.3 1410.3,1711.3 1436.1,1711.3 1438.6,1715.4 1441.1,1715.4 1443.6,1711.3 1459.4,1711.3 1462.7,1702.9 1464.4,1693 1464.4,1643.1 1462.7,1586.5 1467.7,1586.5 1468.5,1643.1 1469.4,1684.7 1470.2,1701.3 1471.9,1712.1 1472.7,1659.7 1473.5,1609.8 1474.4,1589.8 1477.7,1588.2 1478.5,1629.8 1480.2,1626.4 1479.4,1543.3 1479.3,1543.2 1480.7,1474.7 1481.5,1547.9 1485.7,1544.6 1486.5,1504.7 1487.3,1562.9 1489.8,1561.2 1490.7,1453.1 1489,1413.2 1490.7,1386.6 1493.1,1384.9 1495.6,1388.2 1497.3,1468.1 1498.1,1429.8 1496.5,1368.3 1498.1,1347.9 1499,1326.2 1500.6,1314.6 1502.3,1321.2 1502.3,1421.5 1504.8,1324.6 1505.6,1376.1 1506.5,1386.1 1508.1,1376.1 1508.9,1334.6 1510.1,1324.6 1510.9,1314.6 1510.8,1263 1514.4,1254.7 1516.4,1256.4 1519.8,1266.4 1520.1,1359.5 1521.1,1374.5 1522.8,1369.5 1523.1,1266.4 1524.4,1251.4 1525.9,1251.4 1526.7,1291.3 1528.9,1301.3 1529.7,1309.6 1528.1,1436.5 1531.4,1419.8 1533.1,1473 1535.6,1454.8 1537.2,1409.8 1538.9,1396.5 1540.6,1429.8 1543,1429 1545.5,1431.5 1549.7,1406.5 1550.5,1429.8 1543,1429.8 1549.7,1443.1 1543.4,1456.4 1550,1469.7 1544,1483 1550.5,1496.3 1545,1509.6 1551,1522.9 1546.4,1536.3 1551.7,1549.6 1548.9,1562.9 1553.4,1576.2 1550,1589.5 1554.4,1602.8 1551.7,1616.1 1555,1630.2 1550.7,1535 1552.4,1553.2 1553.2,1606.5 1554,1639.7 1554.9,1676.3 1556.9,1693 1557.4,1730.4 1558.2,1712.1 1583.1,1712.1 1585.6,1716.3 1588.1,1711.3 1600.6,1711.3 1604.8,1716.3 1633,1716.3 1637.2,1712.1 1643.8,1712.1 1647.2,1716.3 1650.5,1711.3 1691.3,1711.3 1692.1,1684.7 1694.6,1684.7 1695.4,1711.3 1699.6,1712.1 1701.7,1557.9 1703.3,1526.3 1706.7,1513 1708.3,1506.3 1708.3,1379.9 1709.1,1346.6 1708.3,1329.5 1710,1324.5 1712.5,1329.5 1713.3,1349.5 1715.8,1354.5 1716.6,1372.8 1716.6,1388.2 1718.3,1396.5 1719.1,1546.2 1720,1572.8 1722.5,1579.5 1724.1,1574.5 1725,1606.1 1720.4,1631.4 1722.9,1634.8 1723.7,1703.8 1724.9,1643.1 1726.2,1699.6 1727.5,1636.4 1728.7,1698 1729.5,1626.4 1730.3,1688 1731.2,1609.8 1722.5,1630.2 1726.6,1611.1 1729.1,1612.8 1730.8,1630.2 1731.6,1542.9 1733.3,1522.9 1734.9,1513 1736.6,1363.3 1738.3,1346.6 1737.4,1356.1 1736.6,1302.9 1738.3,1289.6 1739.9,1263 1742.4,1254.7 1744.1,1256.3 1744.6,1297.9 1741.6,1339.5 1744.1,1356.1 1746.6,1361.1 1749.1,1356.1 1751.6,1354.5 1751.6,1306.2 1751.6,1223.1 1753.2,1221.4 1754.9,1223.1 1754.9,1321.2 1757.4,1322.9 1759,1273 1759.9,1194.8 1762.4,1186.5 1764,1136.6 1765.7,1136.6 1766.5,1168.2 1766.5,1219.7 1769.9,1226.4 1768.2,1183.1 1770.7,1179.8 1772.4,1189.8 1772.4,1219.7 1773.2,1239.7 1775.7,1218.1 1776.5,1238 1779,1233 1779.8,1196.5 1778.2,1193.1 1780.7,1176.5 1784,1176.5 1784.8,1161.5 1786.5,1163.2 1789,1168.2 1791.5,1171.5 1792.3,1183.1 1794,1191.5 1794,1289.6 1792.3,1334.5 1794.8,1332.8 1796.5,1306.2 1798.1,1286.3 1798.1,1256.3 1800.6,1239.7 1802.3,1221.4 1804,1220.6 1806.5,1151.5 1808.1,1149.9 1810.6,1153.2 1813.1,1158.2 1814.8,1256.3 1813.9,1274.6 1807.3,1274.6 1808.1,1256.3 1814.8,1198.1 1817.3,1199.8 1818.1,1186.5 1819.8,1163.2 1822.3,1162.4 1823.1,1186.5 1826.4,1184.8 1827.2,1203.1 1823.9,1218.1 1828.1,1211.4 1828.9,1256.3 1826.4,1294.6 1829.7,1302.9 1833.1,1304.6 1830.6,1330 1831.4,1424.8 1833.1,1411.5 1836.4,1408.2 1838.1,1371.6 1838.9,1339.5 1839.7,1296.3 1841.4,1277.1 1843,1278 1844.7,1289.6 1846.4,1306.2 1847.2,1330.4 1850.5,1329.5 1851.4,1346.2 1846.4,1345 1849.7,1345 1852.2,1363.3 1853.9,1371.6 1853.9,1562.9 1854.7,1599.5 1857.2,1622.7 1859.7,1621.1 1856.6,1683 1859.1,1616.5 1859.9,1616.5 1859.9,1726.2 1862.4,1722.9 1864.1,1719.6 1864.9,1704.6 1867.4,1676.3 1868.2,1628.1 1869.9,1629.8 1870.7,1668 1870.7,1734.6 1871.6,1711.3 1928.1,1711.3 1928.1,1684.7 1929.8,1684.7 1931.4,1702.9 1932.3,1717.9 1929.8,1718.7 1933.9,1719.6 1934.8,1742 1937.3,1739.5 1938.9,1711.3 1940.6,1711.3 1942.2,1742.9 1944.7,1742.9 1944.7,1711.3 1966.4,1711.3 1967.2,1744.5 1968.9,1744.5 1968.9,1711.3 1986.3,1711.3 1987.2,1737.9 1988.8,1737.9 1991.3,1726.2 1993,1711.3 2025.4,1711.3 2025.4,1711.3 2027.1,1716.3 2028.8,1712.1 2027.9,1538.3 2029.6,1538.3 2031.6,1668 2032.9,1599.8 2035.4,1589.8 2036.2,1656.4 2037.9,1639.7 2038.7,1543.3 2038.7,1502.8 2040.4,1489.5 2042.9,1481.2 2044.6,1482.9 2045.4,1512.8 2045.4,1543.3 2047,1551.6 2047.9,1528.3 2049.2,1527.8 2051.2,1530 2052,1573.2 2053.7,1593.2 2053.7,1709.6 2052.9,1729.6 2054.5,1727.9 2056.2,1711.3 2057.9,1711.3 2059.5,1741.2 2062,1741.2 2062,1711.3 2071.2,1711.3 2073.7,1726.2 2074.5,1734.6 2078.7,1733.7 2078.7,1717.9 2077.8,1634.8 2078.7,1599.8 2079.5,1564.9 2081.1,1541.6 2082.8,1541.6 2083.6,1559.9 2085.3,1648.1 2087.8,1626.4 2087.8,1559.9 2088.6,1476.7 2091.1,1477.9 2092.8,1487.9 2094.5,1396.4 2095.3,1333.2 2096.9,1306.6 2097.8,1280 2098.6,1250.9 2101.1,1250.9 2101.9,1304.9 2102.8,1329.9 2103.6,1392.2 2105.3,1392.2 2106.1,1333.2 2105.3,1293.3 2106.9,1294.1 2107.8,1308.2 2109.4,1323.2 2110.3,1333.2 2111.1,1479.6 2112.8,1499.5 2113.6,1530.3 2113.6,1599.8 2116.1,1584.9 2117.7,1520 2119.4,1526.6 2120.2,1583.2 2122.7,1564.9 2123.6,1604.8 2127.7,1604.8 2129.4,1559.9 2131,1543.3 2132.7,1530.3 2133.5,1409.7 2135.2,1396.4 2136.9,1386.4 2137.7,1316.6 2139.4,1314.9 2141,1353.1 2142.7,1374.8 2143.5,1398.1 2144.4,1496.2 2146,1512.8 2146.8,1593.2 2147.7,1659.7 2150.2,1676.3 2152.7,1693 2155,1709.6 2156,1712.1 2161,1712.1 2161,1742 2163.5,1742 2165.1,1731.2 2168.5,1721.2 2168.5,1676.3 2170.1,1658 2171.8,1658 2172.6,1712.1 2174.3,1712.1 2175.1,1729.6 2177.6,1729.6 2178.5,1712.1 2180.9,1712.1 2183.4,1737.9 2185.9,1737.9 2185.9,1712.1 2223.4,1712.1 2225.9,1715.4 2228.4,1715.4 2230.8,1711.3 2238.3,1711.3 2241.7,1716.3 2244.2,1712.1 2247.5,1711.3 2250,1715.4" fill="none" stroke="#0000ff" stroke-width="5.0" stroke-linejoin="miter" stroke-miterlimit="1.6" stroke-linecap="butt" />
</g>
<text class="tk" x="135" y="1094.3" text-anchor="middle">20</text>
<text class="tk" x="135.4" y="1273.8" text-anchor="middle">15</text>
<text class="tk" x="135.4" y="1455.5" text-anchor="middle">10</text>
<text class="tk" x="144.7" y="1637.2" text-anchor="middle">5</text>
<text class="tk" x="144" y="1804.5" text-anchor="middle">0</text>
<text class="tk" x="171.5" y="1849.3" text-anchor="middle">0:00</text>
<text class="tk" x="340.7" y="1849.3" text-anchor="middle">2:00</text>
<text class="tk" x="514" y="1849.3" text-anchor="middle">4:00</text>
<text class="tk" x="687" y="1849.3" text-anchor="middle">6:00</text>
<text class="tk" x="860" y="1849.3" text-anchor="middle">8:00</text>
<text class="tk" x="1034" y="1849.3" text-anchor="middle">10:00</text>
<text class="tk" x="1207" y="1849.3" text-anchor="middle">12:00</text>
<text class="tk" x="1380" y="1849.3" text-anchor="middle">14:00</text>
<text class="tk" x="1554" y="1849.3" text-anchor="middle">16:00</text>
<text class="tk" x="1727" y="1849.3" text-anchor="middle">18:00</text>
<text class="tk" x="1900" y="1849.3" text-anchor="middle">20:00</text>
<text class="tk" x="2073" y="1849.3" text-anchor="middle">22:00</text>
<text class="tk" x="2246.4" y="1849.3" text-anchor="middle">24:00</text>
<text class="ax" x="1206" y="1910.2" text-anchor="middle">Time</text>
<text class="ax" transform="translate(82.8 1435.5) rotate(-90)" text-anchor="middle" style="font-size:64.2px">The pitch angle of DFIG (°)</text>
<rect x="261.8" y="1149.5" width="452.6" height="146" fill="#fff" stroke="#404040" stroke-width="1.4"/>
<path d="M302.5 1187.4H380.9" stroke="#ff0000" stroke-width="3" stroke-linecap="round"/>
<path d="M302.5 1251.8H380.9" stroke="#0000ff" stroke-width="4.4" stroke-linecap="round"/>
<text class="lg" x="415" y="1208.5">Scenario1</text>
<text class="lg" x="416" y="1272.6">Scenario2</text>
<text class="cap" x="1170" y="2011.5" text-anchor="middle" style="letter-spacing:0.5px">(<tspan font-weight="bold">b</tspan>)</text>
</g>
</svg>
</body>
</html>
